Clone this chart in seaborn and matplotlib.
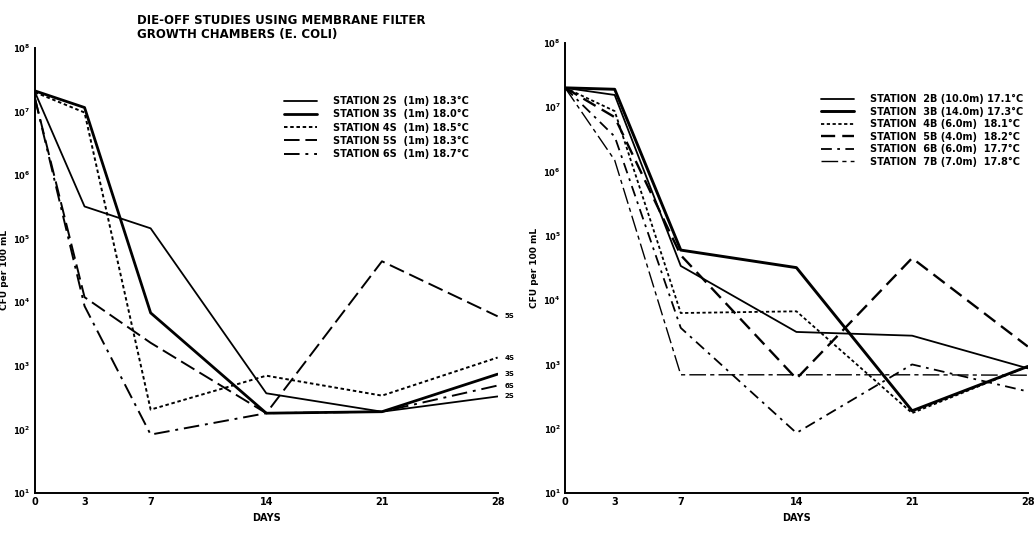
import numpy as np
import pandas as pd
import seaborn as sns
import matplotlib
matplotlib.use('Agg')
import matplotlib.pyplot as plt

# readings (CFU per 100 mL)
days = [0, 3, 7, 14, 21, 28]

surf_names = ['STATION 2S  (1m) 18.3°C', 'STATION 3S  (1m) 18.0°C', 'STATION 4S  (1m) 18.5°C',
              'STATION 5S  (1m) 18.3°C', 'STATION 6S  (1m) 18.7°C']
surf_tags = ['2S', '3S', '4S', '5S', '6S']
s2 = [2.0e7, 3.2e5, 1.45e5, 370, 190, 330]
s3 = [2.1e7, 1.15e7, 6.8e3, 180, 190, 740]
s4 = [2.0e7, 9.6e6, 205, 700, 340, 1350]
s5 = [1.6e7, 1.2e4, 2.3e3, 180, 4.4e4, 6.0e3]
s6 = [1.6e7, 8.7e3, 83, 180, 190, 490]

bot_names = ['STATION  2B (10.0m) 17.1°C', 'STATION  3B (14.0m) 17.3°C', 'STATION  4B (6.0m)  18.1°C',
             'STATION  5B (4.0m)  18.2°C', 'STATION  6B (6.0m)  17.7°C', 'STATION  7B (7.0m)  17.8°C']
b2 = [2.0e7, 1.55e7, 3.4e4, 3.2e3, 2.8e3, 870]
b3 = [2.0e7, 1.9e7, 6.0e4, 3.2e4, 190, 930]
b4 = [2.0e7, 8.7e6, 6.3e3, 6.7e3, 175, 930]
b5 = [2.0e7, 7.0e6, 5.0e4, 600, 4.5e4, 1.9e3]
b6 = [2.0e7, 3.5e6, 3.7e3, 86, 1.0e3, 380]
b7 = [2.0e7, 1.5e6, 690, 690, 690, 680]

surf = pd.DataFrame({'day': days * 5, 'cfu': s2 + s3 + s4 + s5 + s6,
                     'station': np.repeat(surf_names, len(days))})
bot = pd.DataFrame({'day': days * 6, 'cfu': b2 + b3 + b4 + b5 + b6 + b7,
                    'station': np.repeat(bot_names, len(days))})

surf_style = {surf_names[0]: ('-', 1.3), surf_names[1]: ('-', 2.0),
              surf_names[2]: ((0, (1.8, 1.4)), 1.4), surf_names[3]: ((0, (8, 3)), 1.4),
              surf_names[4]: ((0, (8, 3, 1.5, 3)), 1.4)}
bot_style = {bot_names[0]: ('-', 1.3), bot_names[1]: ('-', 2.1),
             bot_names[2]: ((0, (1.8, 1.4)), 1.3), bot_names[3]: ((0, (6, 3)), 1.7),
             bot_names[4]: ((0, (6, 3, 1.5, 3)), 1.3), bot_names[5]: ((0, (12, 3, 3, 3)), 1.0)}

sns.set_theme(style='white')
plt.rcParams['font.family'] = ['DejaVu Sans']
plt.rcParams['font.weight'] = 'bold'
plt.rcParams['text.color'] = 'black'
plt.rcParams['axes.labelcolor'] = 'black'
plt.rcParams['xtick.color'] = 'black'
plt.rcParams['ytick.color'] = 'black'

fig = plt.figure(figsize=(10.35, 5.43), dpi=100)
ax1 = fig.add_axes([0.0338, 0.092, 0.447, 0.820])
ax2 = fig.add_axes([0.546, 0.092, 0.447, 0.829])


def draw(ax, df, styles):
    for name, (ls, lw) in styles.items():
        d = df[df['station'] == name]
        sns.lineplot(data=d, x='day', y='cfu', ax=ax, color='black', linestyle=ls,
                     linewidth=lw, label=name)
    ax.set_yscale('log')
    ax.set_ylim(10, 1e8)
    ax.set_xlim(0, 28)
    ax.set_xticks(days)
    ax.set_xticklabels([str(d) for d in days], fontsize=7, fontweight='bold')
    ax.set_yticks([10.0 ** k for k in range(1, 9)])
    ax.set_yticklabels(['$\\mathbf{10^{%d}}$' % k for k in range(1, 9)], fontsize=6)
    ax.minorticks_off()
    ax.tick_params(axis='both', length=0, pad=3)
    for sp in ['top', 'right']:
        ax.spines[sp].set_visible(False)
    for sp in ['left', 'bottom']:
        ax.spines[sp].set_color('black')
        ax.spines[sp].set_linewidth(1.4)
    ax.set_xlabel('DAYS', fontsize=7, fontweight='bold', labelpad=4)
    ax.set_ylabel('CFU per 100 mL', fontsize=6.5, fontweight='bold', labelpad=3)
    ax.set_facecolor('white')


draw(ax1, surf, surf_style)
draw(ax2, bot, bot_style)

ax1.legend(loc='upper left', bbox_to_anchor=(0.53, 0.90), frameon=False, fontsize=7,
           handlelength=3.4, handletextpad=1.6, labelspacing=0.32, borderaxespad=0,
           labelcolor='black')
ax2.legend(loc='upper left', bbox_to_anchor=(0.545, 0.895), frameon=False, fontsize=7,
           handlelength=3.4, handletextpad=1.6, labelspacing=0.25, borderaxespad=0,
           labelcolor='black')

# end-of-line station tags on the surface panel
for tag, vals in zip(surf_tags, [s2, s3, s4, s5, s6]):
    ax1.annotate(tag, (days[-1], vals[-1]), xytext=(5, 0), textcoords='offset points',
                 fontsize=5, fontweight='bold', va='center', annotation_clip=False)

fig.text(0.132, 0.975, 'DIE-OFF STUDIES USING MEMBRANE FILTER\nGROWTH CHAMBERS (E. COLI)',
         fontsize=8.5, fontweight='bold', va='top', ha='left', linespacing=1.15)

fig.savefig('out.png', dpi=100, facecolor='white')
